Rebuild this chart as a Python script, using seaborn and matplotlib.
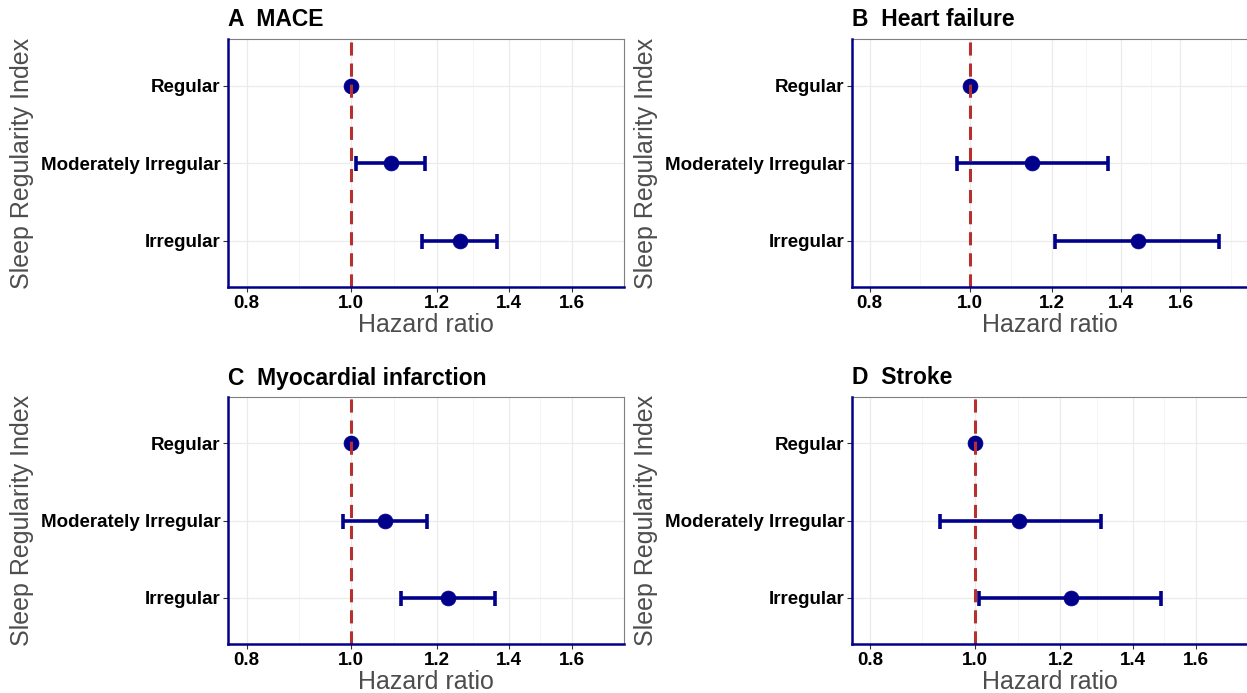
import numpy as np
import pandas as pd
import matplotlib
matplotlib.use("Agg")
import matplotlib.pyplot as plt
import seaborn as sns

# categories, top to bottom
categories = ["Regular", "Moderately Irregular", "Irregular"]

# hazard ratios and 95% CI per outcome
titles = ["A  MACE", "B  Heart failure", "C  Myocardial infarction", "D  Stroke"]

mace_hr = [1.0, 1.089, 1.261]
mace_lo = [1.0, 1.011, 1.163]
mace_hi = [1.0, 1.171, 1.366]

hf_hr = [1.0, 1.149, 1.454]
hf_lo = [1.0, 0.971, 1.209]
hf_hi = [1.0, 1.361, 1.745]

mi_hr = [1.0, 1.074, 1.230]
mi_lo = [1.0, 0.982, 1.111]
mi_hi = [1.0, 1.176, 1.359]

stroke_hr = [1.0, 1.099, 1.226]
stroke_lo = [1.0, 0.928, 1.008]
stroke_hi = [1.0, 1.307, 1.485]

x_breaks = [0.8, 1.0, 1.2, 1.4, 1.6]
x_labels = ["0.8", "1.0", "1.2", "1.4", "1.6"]

sns.set_style("white")
plt.rcParams['font.family'] = ['Liberation Sans', 'DejaVu Sans']

navy = "#00008B"
grey_txt = "#4D4D4D"

fig = plt.figure(figsize=(12.47, 6.93), dpi=100)
W, H = 1247, 693
boxes = [(228, 39, 396, 248), (852, 39, 396, 248),
         (228, 397, 396, 247), (852, 397, 396, 247)]
xlims = [(0.769, 1.755), (0.769, 1.86), (0.769, 1.755), (0.770, 1.766)]

data = [(mace_hr, mace_lo, mace_hi), (hf_hr, hf_lo, hf_hi),
        (mi_hr, mi_lo, mi_hi), (stroke_hr, stroke_lo, stroke_hi)]

# minor gridlines sit at geometric midpoints of the breaks (log axis)
ext = x_breaks + [2.0]
minor = [np.sqrt(a * b) for a, b in zip(ext[:-1], ext[1:])]

for i, (hr, lo, hi) in enumerate(data):
    l, t, w, h = boxes[i]
    ax = fig.add_axes([l / W, 1 - (t + h) / H, w / W, h / H])
    df = pd.DataFrame({"cat": categories, "pos": np.arange(len(categories)),
                       "hr": hr, "lo": lo, "hi": hi})

    ax.set_xscale("log")
    ax.errorbar(df["hr"], df["pos"],
                xerr=[df["hr"] - df["lo"], df["hi"] - df["hr"]],
                fmt="none", ecolor=navy, elinewidth=2.6, capsize=5.4,
                capthick=2.6, zorder=3)
    sns.scatterplot(data=df, x="hr", y="pos", ax=ax, color=navy, s=115,
                    edgecolor=navy, linewidth=0.5, zorder=4, legend=False)
    ax.axvline(1.0, color="#B5302E", lw=2.2, ls=(0, (4.3, 2.6)), zorder=5)

    ax.set_xlim(*xlims[i])
    ax.set_ylim(len(categories) - 0.4, -0.6)
    ax.set_xticks(x_breaks)
    ax.set_xticklabels(x_labels)
    ax.set_xticks(minor, minor=True)
    ax.xaxis.set_minor_formatter(matplotlib.ticker.NullFormatter())
    ax.set_yticks(df["pos"])
    ax.set_yticklabels(categories)

    ax.grid(True, which="major", color="#EBEBEB", lw=0.9, zorder=0)
    ax.grid(True, which="minor", axis="x", color="#F2F2F2", lw=0.5, zorder=0)
    ax.set_axisbelow(True)

    ax.tick_params(axis="both", which="major", length=3.5, width=0.8,
                   color="#333333", labelsize=13.5, pad=2, left=True, bottom=True)
    ax.tick_params(axis="x", which="minor", length=0)
    for lab in ax.get_xticklabels() + ax.get_yticklabels():
        lab.set_fontweight("bold")
        lab.set_color("black")

    for s in ["left", "bottom"]:
        ax.spines[s].set_color(navy)
        ax.spines[s].set_linewidth(1.8)
        ax.spines[s].set_zorder(6)
    for s in ["top", "right"]:
        ax.spines[s].set_color("#7F7F7F")
        ax.spines[s].set_linewidth(0.8)

    ax.set_xlabel("Hazard ratio", fontsize=18, color=grey_txt, labelpad=1)
    ax.set_ylabel("Sleep Regularity Index", fontsize=18, color=grey_txt)
    ax.yaxis.set_label_coords(-0.49, 0.5)
    ax.set_title(titles[i], loc="left", fontsize=16.5, fontweight="bold",
                 color="black", pad=9)

fig.savefig("out.png", dpi=100)
